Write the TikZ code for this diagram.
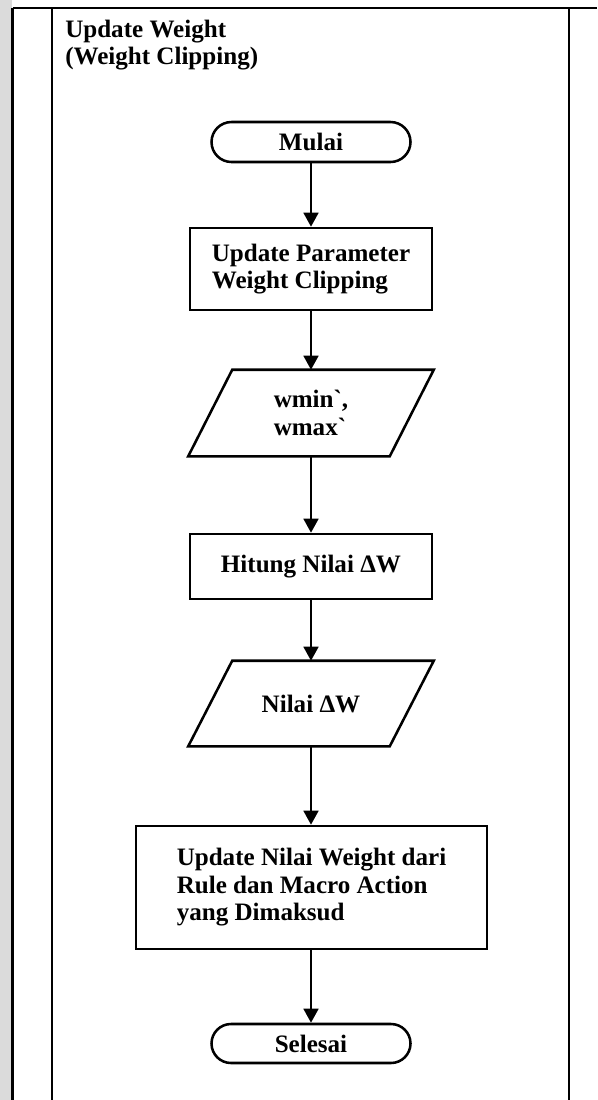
\documentclass[tikz,border=0pt]{standalone}
\usepackage{fontspec}
\setmainfont{Liberation Serif}
\usetikzlibrary{arrows.meta,shapes.misc}
\begin{document}
\begin{tikzpicture}[x=0.75pt,y=-0.75pt,
  frameline/.style={line width=1.9pt},
  flowtext/.style={font=\fontsize{18.8}{20.6}\selectfont\bfseries},
  terminal/.style={flowtext,draw,rounded rectangle,line width=1.9pt,
    minimum width=149.25pt,minimum height=30pt,inner sep=0pt},
  process/.style={flowtext,draw,rectangle,line width=1.9pt,inner sep=0pt,align=left},
  iobox/.style={flowtext,inner sep=0pt,align=left,minimum width=183.75pt},
  flow/.style={line width=1.9pt,-{Triangle[length=10.5pt,width=11pt]}}]
\useasboundingbox (0,0) rectangle (597,1100);
\fill[white] (0,0) rectangle (597,1100);
% shaded margin at the left edge
\fill[gray!28] (0,0) rectangle (11.5,1100);

% swimlane frame
\coordinate (tl) at (12.7,8);
\coordinate (tr) at (597,8);
\coordinate (bl) at (12.7,1100);
\coordinate (il) at (52,8);
\coordinate (ib) at (52,1100);
\coordinate (rl) at (569,8);
\coordinate (rb) at (569,1100);
\draw[frameline] (tl) -- (tr);
\draw[frameline] (tl) -- (bl);
\draw[frameline] (il) -- (ib);
\draw[frameline] (rl) -- (rb);

% lane title
\node[flowtext,anchor=base west,inner sep=0pt] (title1) at (65,37.5) {Update Weight};
\node[flowtext,anchor=base west,inner sep=0pt] (title2) at (65,64) {(Weight Clipping)};

% flowchart steps
\node[terminal] (mulai) at (311,142) {Mulai};
\node[process,minimum width=181.5pt,minimum height=61.5pt] (param) at (311,269)
  {Update Parameter\\Weight Clipping};
\node[iobox,minimum height=64.5pt] (wio) at (311,413)
  {wmin\textasciigrave,\\wmax\textasciigrave};
\draw[frameline] ([xshift=33pt]wio.north west) -- (wio.north east)
  -- ([xshift=-33pt]wio.south east) -- (wio.south west) -- cycle;
\node[process,minimum width=181.5pt,minimum height=48.75pt] (hitung) at (311,566.5)
  {Hitung Nilai ΔW};
\node[iobox,minimum height=63.75pt] (dwio) at (311,703.5) {Nilai ΔW};
\draw[frameline] ([xshift=33pt]dwio.north west) -- (dwio.north east)
  -- ([xshift=-33pt]dwio.south east) -- (dwio.south west) -- cycle;
\node[process,minimum width=263.25pt,minimum height=92.25pt] (update) at (311.5,887.5)
  {Update Nilai Weight dari\\Rule dan Macro Action\\yang Dimaksud};
\node[terminal,minimum height=29.25pt] (selesai) at (311,1043.5) {Selesai};

% connectors
\draw[flow] (mulai.south) -- (param.north);
\draw[flow] (param.south) -- (wio.north);
\draw[flow] (wio.south) -- (hitung.north);
\draw[flow] (hitung.south) -- (dwio.north);
\draw[flow] (dwio.south) -- (update.north -| dwio.south);
\draw[flow] (update.south -| selesai.north) -- (selesai.north);
\end{tikzpicture}
\end{document}
